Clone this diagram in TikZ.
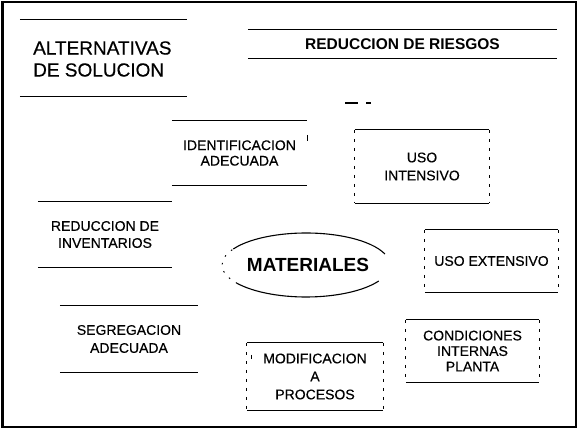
\documentclass[tikz,border=0pt]{standalone}
\usepackage{fontspec}
\setmainfont{Liberation Sans}
\newfontfamily\scanfont{Liberation Sans}[FakeBold=0.4]
\begin{document}
\begin{tikzpicture}[x=1pt,y=-1pt,
  txt/.style={align=center, inner sep=0pt, font=\scanfont\fontsize{14}{17}\selectfont},
  rule/.style={line width=1.2pt},
  side/.style={line width=1pt, dash pattern=on 3pt off 6pt}]
\useasboundingbox (0,0) rectangle (580,430);
\fill[white] (0,0) rectangle (580,430);
% frame
\draw[line width=1.8pt] (2,2) rectangle (576,427);
\draw[line width=3pt] (2,2) -- (2,427);

% ALTERNATIVAS DE SOLUCION
\node[inner sep=0pt, minimum width=167pt, minimum height=76pt] (alt) at (103.5,58) {};
\node[inner sep=0pt, align=left, font=\scanfont\fontsize{19}{22}\selectfont, anchor=west] (alttxt) at (33,59) {ALTERNATIVAS\\DE SOLUCION};
\draw[rule] (alt.north west) -- (alt.north east);
\draw[rule] (alt.south west) -- (alt.south east);

% REDUCCION DE RIESGOS
\node[inner sep=0pt, font=\bfseries\fontsize{15.5}{18}\selectfont,
      minimum width=309pt, minimum height=28pt] (ries) at (402.5,44) {REDUCCION DE RIESGOS};
\draw[rule] (ries.north west) -- (ries.north east);
\draw[rule] (ries.south west) -- (ries.south east);

% stray dashes
\coordinate (d1) at (345,103); \coordinate (d2) at (358,103);
\coordinate (d3) at (366,103); \coordinate (d4) at (371,103);
\draw[rule] (d1) -- (d2);
\draw[rule] (d3) -- (d4);

% IDENTIFICACION ADECUADA
\node[txt, font=\scanfont\fontsize{14}{15.5}\selectfont, minimum width=135pt, minimum height=64pt] (ident) at (239.5,153) {IDENTIFICACION\\ADECUADA};
\draw[rule] (ident.north west) -- (ident.north east);
\draw[rule] (ident.south west) -- (ident.south east);
\draw[line width=1pt] ([yshift=-14pt]ident.north east) -- ([yshift=-20pt]ident.north east);

% USO INTENSIVO
\node[txt, font=\scanfont\fontsize{14}{18}\selectfont, minimum width=134pt, minimum height=73pt] (usoi) at (422,166.5) {USO\\INTENSIVO};
\draw[rule] (usoi.north west) -- (usoi.north east);
\draw[rule] (usoi.south west) -- (usoi.south east);
\draw[side] (usoi.north west) -- (usoi.south west);
\draw[side] (usoi.north east) -- (usoi.south east);

% REDUCCION DE INVENTARIOS
\node[txt, minimum width=134pt, minimum height=65pt] (inv) at (105,234.5) {REDUCCION DE\\INVENTARIOS};
\draw[rule] (inv.north west) -- (inv.north east);
\draw[rule] (inv.south west) -- (inv.south east);

% MATERIALES
\node[inner sep=0pt, font=\bfseries\fontsize{19}{22}\selectfont] (mat) at (308,265) {MATERIALES};
\coordinate (mc) at (306,265);
\draw[line width=1.1pt] ([shift={(210:84 and 32)}]mc) arc[start angle=210, end angle=340, x radius=84, y radius=32];
\draw[line width=1.1pt] ([shift={(145:84 and 32)}]mc) arc[start angle=145, end angle=30, x radius=84, y radius=32];
\draw[line width=1pt, dash pattern=on 1.5pt off 7pt] ([shift={(145:84 and 32)}]mc) arc[start angle=145, end angle=210, x radius=84, y radius=32];

% USO EXTENSIVO
\node[txt, minimum width=133pt, minimum height=62pt] (usoe) at (491.5,261) {USO EXTENSIVO};
\draw[rule] (usoe.north west) -- (usoe.north east);
\draw[rule] (usoe.south west) -- (usoe.south east);
\draw[side] (usoe.north west) -- (usoe.south west);
\draw[side] (usoe.north east) -- (usoe.south east);

% SEGREGACION ADECUADA
\node[txt, font=\scanfont\fontsize{14}{18}\selectfont, minimum width=138pt, minimum height=66pt] (seg) at (129,339) {SEGREGACION\\ADECUADA};
\draw[rule] (seg.north west) -- (seg.north east);
\draw[rule] (seg.south west) -- (seg.south east);

% MODIFICACION A PROCESOS
\node[txt, font=\scanfont\fontsize{14}{18}\selectfont, minimum width=136pt, minimum height=67pt] (mod) at (315,376.5) {MODIFICACION\\A\\PROCESOS};
\draw[rule] (mod.north west) -- (mod.north east);
\draw[rule] (mod.south west) -- (mod.south east);
\draw[side] (mod.north west) -- (mod.south west);
\draw[side] (mod.north east) -- (mod.south east);
\draw[line width=1pt] ([shift={(5pt,-12pt)}]mod.north west) -- ([shift={(5pt,-16pt)}]mod.north west);

% CONDICIONES INTERNAS PLANTA
\node[txt, font=\scanfont\fontsize{14}{15.5}\selectfont, minimum width=133pt, minimum height=62pt] (cond) at (472.5,351) {CONDICIONES\\INTERNAS\\PLANTA};
\draw[rule] (cond.north west) -- (cond.north east);
\draw[rule] (cond.south west) -- (cond.south east);
\draw[side] (cond.north west) -- (cond.south west);
\draw[side] (cond.north east) -- (cond.south east);
\end{tikzpicture}
\end{document}
